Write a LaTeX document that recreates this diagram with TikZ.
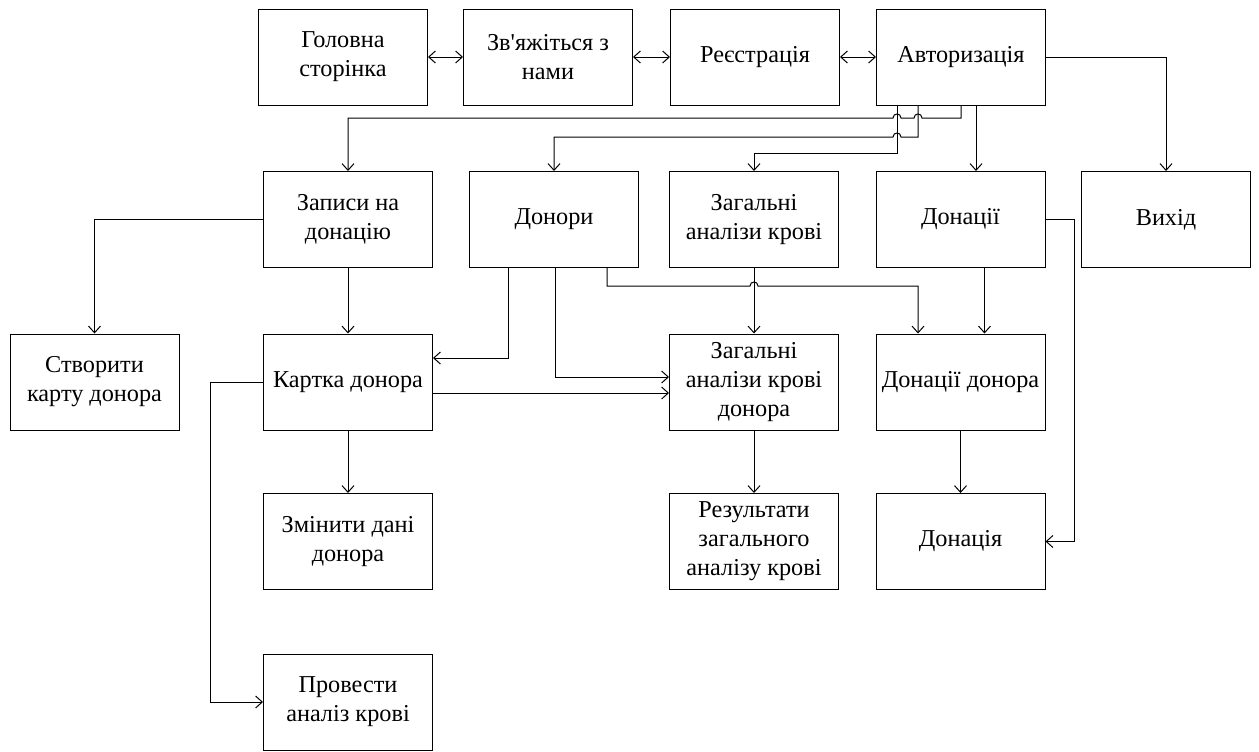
\documentclass[tikz,border=0pt]{standalone}
\usepackage{fontspec}
\setmainfont{Liberation Serif}[Ligatures=TeXOff]
\usetikzlibrary{arrows.meta,calc}
\begin{document}
\begin{tikzpicture}[x=0.75pt,y=-0.75pt,
  box/.style={draw,line width=0.75pt,minimum width=126.75pt,minimum height=72pt,
    align=center,inner sep=2pt,font=\fontsize{18.2}{21.75}\selectfont},
  arr/.style={line width=0.75pt,-{Straight Barb[length=5pt,width=9pt]}},
  darr/.style={line width=0.75pt,{Straight Barb[length=5pt,width=9pt]}-{Straight Barb[length=5pt,width=9pt]}}]
\useasboundingbox (0,0) rectangle (1259,751);
% row 1
\node[box] (glav) at (343,57) {Головна\\сторінка};
\node[box] (zv) at (548,57) {Зв'яжіться з\\нами};
\node[box] (reg) at (755,57) {Реєстрація};
\node[box] (auth) at (961,57) {Авторизація};
% row 2
\node[box] (zap) at (348,219.5) {Записи на\\донацію};
\node[box] (don) at (554,219.5) {Донори};
\node[box] (zag) at (754,219.5) {Загальні\\аналізи крові};
\node[box] (donac) at (960.5,219.5) {Донації};
\node[box] (vyh) at (1166,219.5) {Вихід};
% row 3
\node[box] (stv) at (94.5,382) {Створити\\карту донора};
\node[box] (kart) at (348,382) {Картка донора};
\node[box] (zagd) at (754,382) {Загальні\\аналізи крові\\донора};
\node[box] (dond) at (960.5,382) {Донації донора};
% row 4
\node[box] (zmin) at (348,541.5) {Змінити дані\\донора};
\node[box] (res) at (754,541.5) {Результати\\загального\\аналізу крові};
\node[box] (dnc) at (960.5,541.5) {Донація};
% row 5
\node[box] (prov) at (348,702) {Провести\\аналіз крові};

% top row links
\draw[darr] (glav.east) -- (zv.west);
\draw[darr] (zv.east) -- (reg.west);
\draw[darr] (reg.east) -- (auth.west);
\draw[arr] (auth.east) -| (vyh.north);
\draw[arr] ($(auth.south)+(15,0)$) coordinate (t1) -- (t1 |- donac.north);
% auth -> zap with two jumps
\draw[arr] (auth.south) -- (961,118) -- (922,118)
  .. controls (922,112.67) and (914,112.67) .. (914,118) -- (901,118)
  .. controls (901,112.67) and (893,112.67) .. (893,118) -- (348,118) -- (zap.north);
% auth -> don with one jump
\draw[arr] ($(auth.south)+(-43,0)$) -- (918,137) -- (901,137)
  .. controls (901,131.67) and (893,131.67) .. (893,137) -- (554,137) -- (don.north);
% auth -> zag
\draw[arr] ($(auth.south)+(-64,0)$) -- (897,153) -- (754,153) -- (zag.north);

% row 2 -> row 3
\draw[arr] (zap.west) -| (stv.north);
\draw[arr] (zap.south) -- (kart.north);
\draw[arr] ($(don.south)+(-46,0)$) |- ($(kart.east)+(0,-24)$);
\draw[arr] ($(don.south)+(1,0)$) |- ($(zagd.west)+(0,-5)$);
\draw[arr] ($(don.south)+(53,0)$) -- (607,286) -- (750,286)
  .. controls (750,280.67) and (758,280.67) .. (758,286) -- (918,286) -- ($(dond.north)+(-42.5,0)$);
\draw[arr] (zag.south) -- (zagd.north);
\draw[arr] ($(donac.south)+(24,0)$) -- ($(dond.north)+(24,0)$);
\draw[arr] (donac.east) -- ($(donac.east)+(29,0)$) |- (dnc.east);

% row 3 -> below
\draw[arr] ($(kart.east)+(0,11)$) -- ($(zagd.west)+(0,11)$);
\draw[arr] (kart.south) -- (zmin.north);
\draw[arr] (kart.west) -- ($(kart.west)+(-53,0)$) |- (prov.west);
\draw[arr] (zagd.south) -- (res.north);
\draw[arr] (dond.south) -- (dnc.north);
\end{tikzpicture}
\end{document}
